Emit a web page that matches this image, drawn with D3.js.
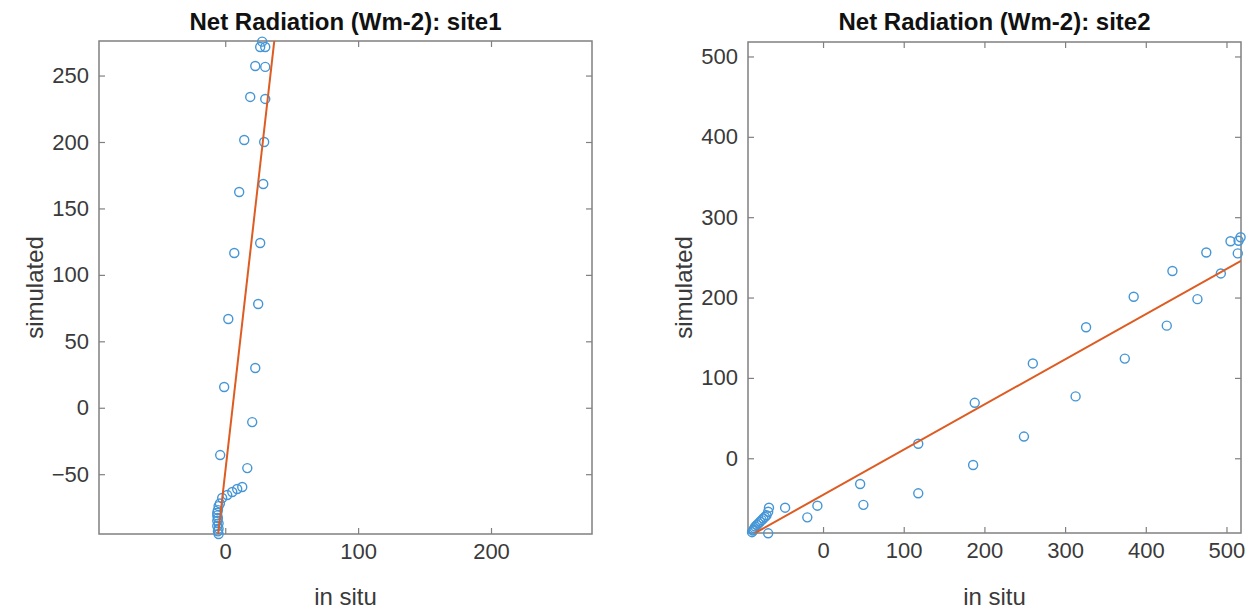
<!DOCTYPE html>
<html>
<head>
<meta charset="utf-8">
<script src="https://cdn.jsdelivr.net/npm/d3@7"></script>
<style>
  html, body { margin: 0; padding: 0; background: #ffffff; }
  svg { display: block; }
</style>
</head>
<body>
<svg id="chart" width="1249" height="609"></svg>
<script>
// ---------------- data ----------------
const panelTitles = ["Net Radiation (Wm-2): site1", "Net Radiation (Wm-2): site2"];
const xAxisLabel = "in situ";
const yAxisLabel = "simulated";

const site1InSitu = [27.8, 26.3, 30.1, 22.6, 30.1, 18.8, 30.1, 14.3, 29.3, 28.6, 10.5, 26.3, 6.8,
  24.8, 2.3, 22.6, -0.8, 20.3, -3.8, 16.6, 12.8, 9.0, 5.3, 1.5, -2.3,
  -4, -5, -5.5, -6, -6, -5.5, -6, -5, -6, -5, -5.5, -5];
const site1Sim = [275.5, 271.5, 271.5, 257.2, 256.5, 233.9, 232.4, 201.5, 200, 168.4, 162.4, 124, 116.5,
  78.1, 66.8, 29.9, 15.6, -10.8, -35.6, -45.4, -59.6, -61.1, -63.4, -65.7, -67.9,
  -72, -74, -77, -79, -81, -83, -85, -87, -89, -91, -93, -95];

const site2InSitu = [517.5, 515, 505, 514, 475, 493, 433, 464, 385, 426, 326, 374, 260,
  313, 188, 249, 118, 186, 46, 118, 50, -7, -19.5, -47, -67, -68, -68,
  -70, -72, -74, -76, -78, -80, -82, -84, -85, -86, -87, -88];
const site2Sim = [275, 270.7, 270, 255, 256, 230, 233, 198, 201, 165, 163, 124, 118,
  77, 69, 27, 18, -8.4, -32, -43.6, -58, -59, -73.5, -61.5, -61.5, -66.5, -93.4,
  -71, -73, -75, -77, -79, -81, -83, -85, -87, -89, -90, -92];

// least-squares fit lines as drawn (simulated = slope * in situ + intercept)
const fitSlope = [8.79, 0.5625];
const fitIntercept = [-48.4, -45.6];

// axis limits (same for x and y in each panel)
const axisLimits = [[-95, 276], [-93, 518]];

const xTicks1 = [0, 100, 200];
const yTicks1 = [-50, 0, 50, 100, 150, 200, 250];
const xTicks2 = [0, 100, 200, 300, 400, 500];
const yTicks2 = [0, 100, 200, 300, 400, 500];

// ---------------- layout ----------------
const panels = [
  { title: panelTitles[0], x: site1InSitu, y: site1Sim, lim: axisLimits[0],
    xt: xTicks1, yt: yTicks1, slope: fitSlope[0], icpt: fitIntercept[0],
    box: { l: 99, r: 592, t: 41, b: 534 } },
  { title: panelTitles[1], x: site2InSitu, y: site2Sim, lim: axisLimits[1],
    xt: xTicks2, yt: yTicks2, slope: fitSlope[1], icpt: fitIntercept[1],
    box: { l: 748, r: 1241, t: 42, b: 533 } }
];

const FONT = "'Liberation Sans', Arial, Helvetica, sans-serif";
const AXIS_COLOR = "#808080";
const TEXT_COLOR = "#3a3a3a";
const MARKER_COLOR = "#4596d6";
const LINE_COLOR = "#DE5C22";

const svg = d3.select("#chart");
const defs = svg.append("defs");

panels.forEach((p, i) => {
  const x = d3.scaleLinear().domain(p.lim).range([p.box.l, p.box.r]);
  const y = d3.scaleLinear().domain(p.lim).range([p.box.b, p.box.t]);
  const g = svg.append("g");

  defs.append("clipPath").attr("id", "clip" + i)
    .append("rect")
    .attr("x", p.box.l).attr("y", p.box.t)
    .attr("width", p.box.r - p.box.l).attr("height", p.box.b - p.box.t);

  // axes
  const styleAxis = sel => {
    sel.select(".domain").remove();
    sel.selectAll(".tick line").attr("stroke", AXIS_COLOR).attr("stroke-width", 1.2);
    sel.selectAll(".tick text").attr("fill", TEXT_COLOR)
      .style("font-family", FONT).style("font-size", "22px");
  };
  g.append("g").attr("transform", `translate(0,${p.box.b})`)
    .call(d3.axisBottom(x).tickValues(p.xt).tickSize(-6).tickPadding(9).tickFormat(d3.format("d")))
    .call(styleAxis);
  g.append("g").attr("transform", `translate(0,${p.box.t})`)
    .call(d3.axisTop(x).tickValues(p.xt).tickSize(-6).tickFormat(""))
    .call(styleAxis);
  g.append("g").attr("transform", `translate(${p.box.l},0)`)
    .call(d3.axisLeft(y).tickValues(p.yt).tickSize(-6).tickPadding(10).tickFormat(d3.format("d")))
    .call(styleAxis);
  g.append("g").attr("transform", `translate(${p.box.r},0)`)
    .call(d3.axisRight(y).tickValues(p.yt).tickSize(-6).tickFormat(""))
    .call(styleAxis);

  g.append("rect")
    .attr("x", p.box.l).attr("y", p.box.t)
    .attr("width", p.box.r - p.box.l).attr("height", p.box.b - p.box.t)
    .attr("fill", "none").attr("stroke", AXIS_COLOR).attr("stroke-width", 1.5);

  // markers
  g.append("g").selectAll("circle")
    .data(p.x.map((v, k) => [v, p.y[k]]))
    .join("circle")
    .attr("cx", d => x(d[0])).attr("cy", d => y(d[1]))
    .attr("r", 4.5)
    .attr("fill", "none").attr("stroke", MARKER_COLOR).attr("stroke-width", 1.4);

  // fit line
  const xs = p.lim;
  g.append("path")
    .datum(xs.map(v => [v, p.slope * v + p.icpt]))
    .attr("clip-path", `url(#clip${i})`)
    .attr("d", d3.line().x(d => x(d[0])).y(d => y(d[1])))
    .attr("fill", "none").attr("stroke", LINE_COLOR).attr("stroke-width", 2);

  // title and labels
  const cx = (p.box.l + p.box.r) / 2;
  const cy = (p.box.t + p.box.b) / 2;
  g.append("text").attr("x", cx).attr("y", 30)
    .attr("text-anchor", "middle").attr("fill", "#111")
    .style("font-family", FONT).style("font-weight", "bold").style("font-size", "24px")
    .text(p.title);
  g.append("text").attr("x", cx).attr("y", 605)
    .attr("text-anchor", "middle").attr("fill", TEXT_COLOR)
    .style("font-family", FONT).style("font-size", "24px")
    .text(xAxisLabel);
  g.append("text")
    .attr("transform", `translate(${p.box.l - 56},${cy}) rotate(-90)`)
    .attr("text-anchor", "middle").attr("fill", TEXT_COLOR)
    .style("font-family", FONT).style("font-size", "24px")
    .text(yAxisLabel);
});
</script>
</body>
</html>
